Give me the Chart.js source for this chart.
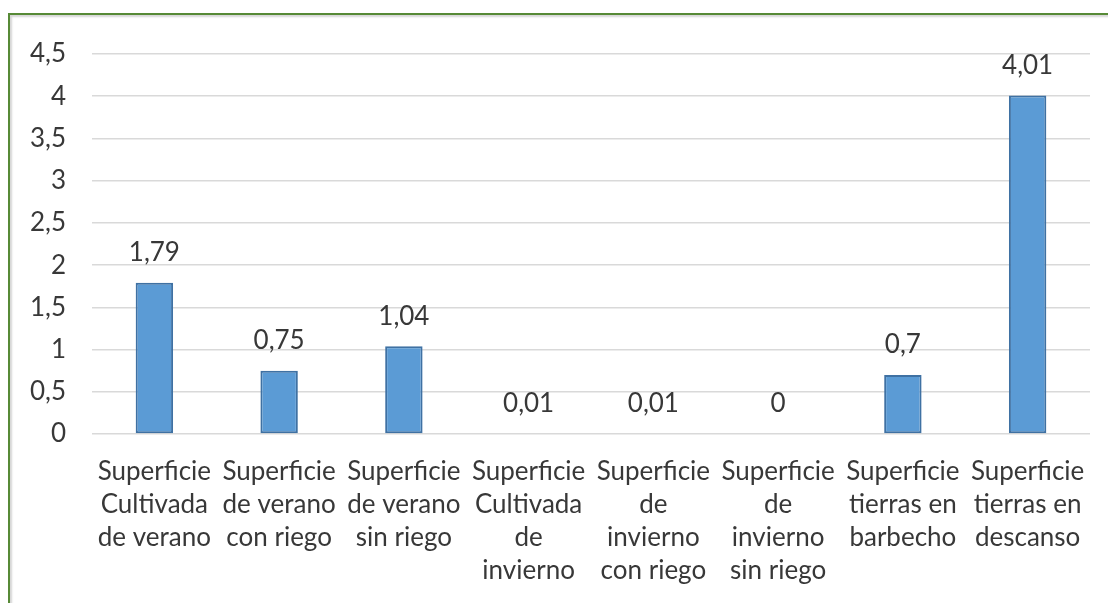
<!DOCTYPE html>
<html lang="es">
<head>
<meta charset="utf-8">
<title>Superficie</title>
<script src="https://cdn.jsdelivr.net/npm/chart.js@4"></script>
<style>
  html, body { margin: 0; padding: 0; background: #fff; }
  body { width: 1108px; height: 603px; position: relative; overflow: hidden; }
  .frame {
    position: absolute; left: 8px; top: 13px; width: 1120px; height: 620px;
    border-top: 2px solid #578A36; border-left: 2px solid #578A36;
    box-shadow: inset 3px 3px 2px -1px #d6d6d6;
  }
  .wrap { position: absolute; left: 0; top: 0; width: 1108px; height: 603px; }
</style>
</head>
<body>
<div class="frame"></div>
<div class="wrap"><canvas id="superficieChart" width="1108" height="603"></canvas></div>
<script>
// categories and values
const categorias = [
  ['Superficie', 'Cultivada', 'de verano'],
  ['Superficie', 'de verano', 'con riego'],
  ['Superficie', 'de verano', 'sin riego'],
  ['Superficie', 'Cultivada', 'de', 'invierno'],
  ['Superficie', 'de', 'invierno', 'con riego'],
  ['Superficie', 'de', 'invierno', 'sin riego'],
  ['Superficie', 'tierras en', 'barbecho'],
  ['Superficie', 'tierras en', 'descanso']
];
const valores = [1.79, 0.75, 1.04, 0.01, 0.01, 0, 0.7, 4.01];
const ejeMin = 0;
const ejeMax = 4.5;
const ejePaso = 0.5;

const fuente = 'Lato, "Open Sans", sans-serif';
const colorTexto = '#383838';
const coma = v => String(v).replace('.', ',');

// value labels above each bar
const etiquetasValor = {
  id: 'etiquetasValor',
  afterDatasetsDraw(chart) {
    const ctx = chart.ctx;
    const meta = chart.getDatasetMeta(0);
    ctx.save();
    ctx.font = '26px ' + fuente;
    ctx.fillStyle = colorTexto;
    ctx.textAlign = 'center';
    ctx.textBaseline = 'middle';
    meta.data.forEach((bar, i) => {
      ctx.fillText(coma(valores[i]), bar.x, bar.y - 30);
    });
    ctx.restore();
  }
};

const ctx = document.getElementById('superficieChart').getContext('2d');
const grafico = new Chart(ctx, {
  type: 'bar',
  data: {
    labels: categorias,
    datasets: [{
      data: valores,
      backgroundColor: '#5B9BD5',
      borderColor: '#3F71A3',
      borderWidth: 2,
      borderSkipped: false,
      barPercentage: 0.3,
      categoryPercentage: 1
    }]
  },
  options: {
    responsive: false,
    animation: false,
    layout: { padding: { left: 0, right: 18, top: 54, bottom: 0 } },
    plugins: {
      legend: { display: false },
      tooltip: { enabled: false }
    },
    scales: {
      x: {
        grid: { display: false, drawTicks: false },
        border: { display: false },
        ticks: {
          color: colorTexto,
          font: { family: fuente, size: 26, lineHeight: 1.27 },
          padding: 21,
          maxRotation: 0,
          autoSkip: false
        },
        afterFit(scale) { scale.height = 603 - 434; }
      },
      y: {
        min: ejeMin,
        max: ejeMax,
        grid: { color: '#D9D9D9', lineWidth: 1.5, drawTicks: false },
        border: { display: false },
        ticks: {
          stepSize: ejePaso,
          color: colorTexto,
          font: { family: fuente, size: 26 },
          padding: 26,
          callback: v => coma(v)
        },
        afterFit(scale) { scale.width = 92; }
      }
    }
  },
  plugins: [etiquetasValor]
});
</script>
</body>
</html>
